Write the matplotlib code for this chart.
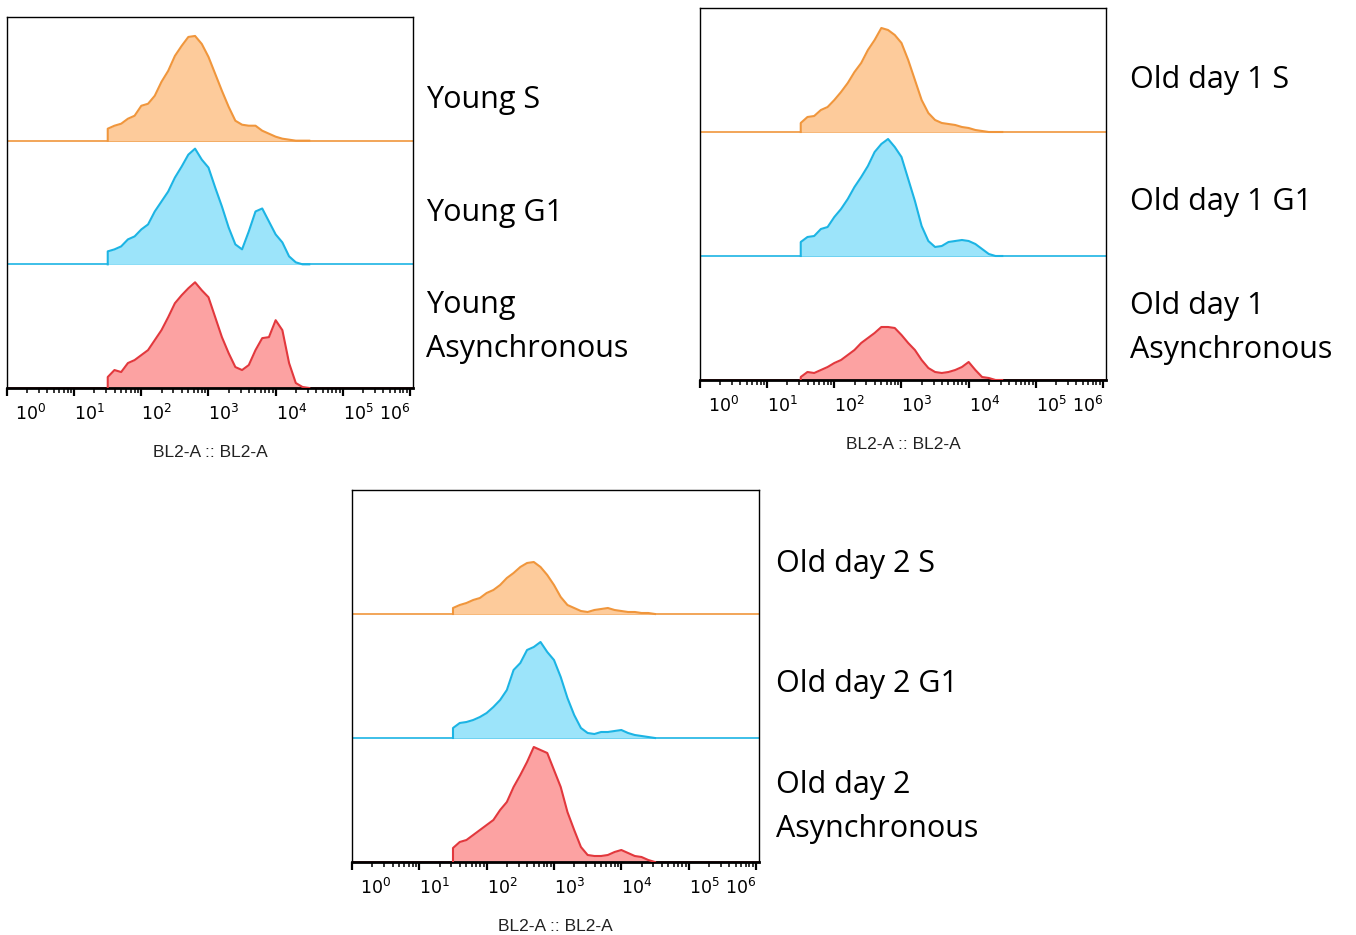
import matplotlib
matplotlib.use("Agg")
from matplotlib import pyplot as plt
from matplotlib.ticker import LogLocator, NullFormatter
from matplotlib import transforms
import numpy as np

plt.rcParams['mathtext.fontset'] = 'custom'
plt.rcParams['mathtext.rm'] = 'Liberation Sans'
plt.rcParams['mathtext.it'] = 'Liberation Sans'

# log10 of BL2-A channel (bin positions)
log_bins = [1.5, 1.6, 1.7, 1.8, 1.9, 2.0, 2.1, 2.2, 2.3, 2.4, 2.5, 2.6, 2.7, 2.8, 2.9, 3.0,
            3.1, 3.2, 3.3, 3.4, 3.5, 3.6, 3.7, 3.8, 3.9, 4.0, 4.1, 4.2, 4.3, 4.4, 4.5]

# histogram heights (row height = 124)
young_s = [12, 15, 17, 22, 25, 35, 37, 45, 59, 70, 85, 95, 104, 105, 97, 84,
           67, 50, 34, 20, 16, 15, 15, 10, 7, 4, 2, 1, 0, 0, 0]
young_g1 = [13, 15, 18, 25, 28, 35, 40, 53, 63, 73, 87, 98, 110, 116, 105, 97,
            77, 58, 37, 20, 15, 33, 53, 56, 43, 30, 22, 8, 2, 0, 0]
young_async = [11, 18, 16, 25, 28, 33, 38, 48, 58, 71, 85, 93, 100, 106, 98, 91,
               71, 51, 35, 21, 18, 23, 38, 50, 51, 68, 58, 25, 5, 1, 0]

old1_s = [9, 15, 16, 22, 25, 32, 40, 49, 60, 69, 82, 92, 104, 102, 97, 89,
          72, 52, 32, 19, 12, 9, 8, 7, 5, 4, 2, 1, 0, 0, 0]
old1_g1 = [14, 19, 20, 27, 29, 39, 47, 57, 69, 79, 90, 104, 112, 117, 109, 99,
           77, 55, 30, 15, 9, 10, 14, 15, 16, 15, 12, 7, 2, 0, 0]
old1_async = [3, 8, 7, 10, 13, 17, 20, 25, 30, 37, 42, 47, 53, 53, 52, 45,
              37, 30, 20, 12, 8, 7, 8, 10, 13, 18, 10, 3, 2, 0, 0]

old2_s = [6, 9, 11, 14, 16, 21, 24, 29, 36, 41, 47, 51, 52, 47, 39, 29,
          17, 9, 6, 3, 2, 4, 5, 6, 4, 3, 2, 2, 1, 1, 0]
old2_g1 = [10, 15, 16, 18, 21, 25, 31, 38, 48, 68, 75, 88, 91, 96, 86, 78,
           61, 40, 23, 10, 5, 4, 6, 6, 7, 8, 5, 3, 2, 1, 0]
old2_async = [14, 20, 22, 27, 32, 37, 42, 52, 60, 75, 87, 100, 115, 112, 109, 92,
              75, 50, 32, 15, 7, 6, 6, 7, 10, 12, 9, 6, 5, 2, 0]

panels = [
    {"box": (7, 17, 406, 371), "curves": [young_s, young_g1, young_async],
     "labels": [("Young S", 108), ("Young G1", 221), ("Young", 313), ("Asynchronous", 357)],
     "text_x": 426},
    {"box": (700, 8, 406, 372), "curves": [old1_s, old1_g1, old1_async],
     "labels": [("Old day 1 S", 88), ("Old day 1 G1", 210), ("Old day 1", 314), ("Asynchronous", 358)],
     "text_x": 1130},
    {"box": (352, 490, 407, 372), "curves": [old2_s, old2_g1, old2_async],
     "labels": [("Old day 2 S", 572), ("Old day 2 G1", 692), ("Old day 2", 793), ("Asynchronous", 837)],
     "text_x": 776},
]

line_colors = ['#F0963C', '#1CB4E4', '#E2383D']
fill_colors = ['#FDCB9B', '#9CE4FA', '#FCA2A2']
row_h = 124
offsets = [2 * row_h, row_h, 0]

W, H = 1356, 935
fig = plt.figure(figsize=(W / 100, H / 100), dpi=100)

x = 10 ** np.array(log_bins)

for p in panels:
    left, top, w, h = p["box"]
    ax = fig.add_axes([left / W, 1 - (top + h) / H, w / W, h / H])
    for vals, off, lc, fc in zip(p["curves"], offsets, line_colors, fill_colors):
        y = off + np.array(vals)
        ax.axhline(off, color=lc, lw=1.2, zorder=1)
        ax.fill_between(x, off, y, color=fc, lw=0, zorder=2)
        ax.plot(np.r_[x[0], x], np.r_[off, y], color=lc, lw=1.5, zorder=3)
    ax.set_xscale('log')
    ax.set_xlim(1, 10 ** 6.045)
    ax.set_ylim(0, 3 * row_h)
    ax.set_yticks([])
    ax.set_xticks([10 ** k for k in range(7)])
    ax.set_xticklabels([r'$\mathregular{10^{%d}}$' % k for k in range(7)], fontsize=12.5)
    ax.xaxis.set_minor_locator(LogLocator(base=10, subs=np.arange(2, 10), numticks=20))
    ax.xaxis.set_minor_formatter(NullFormatter())
    ax.tick_params(axis='x', which='major', direction='out', length=5.5, width=1.6, pad=6)
    ax.tick_params(axis='x', which='minor', direction='out', length=3.5, width=1.1)
    for s in ax.spines.values():
        s.set_linewidth(1)
    ax.spines['bottom'].set_linewidth(2)
    labs = ax.get_xticklabels()
    for i, t in enumerate(labs):
        t.set_horizontalalignment('left')
        if i == 0:
            t.set_transform(t.get_transform() + transforms.ScaledTranslation(0.08, 0, fig.dpi_scale_trans))
        if i == len(labs) - 1:
            t.set_horizontalalignment('right')
    ax.set_xlabel('BL2-A :: BL2-A', fontsize=12.5, family='Liberation Sans', labelpad=15,
                  color='#222222')
    for txt, yb in p["labels"]:
        fig.text(p["text_x"] / W, 1 - yb / H, txt, fontsize=22, family='Open Sans',
                 va='baseline', ha='left')

fig.savefig('out.png', dpi=100)
